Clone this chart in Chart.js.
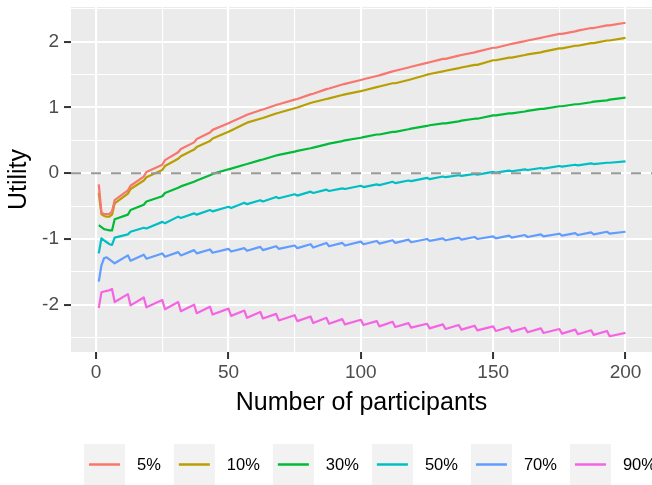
<!DOCTYPE html>
<html>
<head>
<meta charset="utf-8">
<script src="https://cdn.jsdelivr.net/npm/chart.js@4.4.1/dist/chart.umd.min.js"></script>
<style>
  html, body { margin: 0; padding: 0; background: #ffffff; }
  canvas { display: block; }
</style>
</head>
<body>
<canvas id="chartCanvas" width="652" height="485"></canvas>
<script>
// number of participants where the curves have a corner
const participants = [1, 2, 3, 4, 5, 6, 7, 12, 13, 18, 19, 25, 26, 31, 32, 37, 38, 43, 44, 50, 51,
  56, 57, 62, 63, 68, 69, 75, 76, 81, 82, 87, 88, 93, 94, 100, 101, 106, 107, 112, 113,
  118, 119, 125, 126, 131, 132, 137, 138, 143, 144, 150, 151, 156, 157, 162, 163, 168, 169,
  175, 176, 181, 182, 187, 188, 193, 194, 200];

const seriesLabels = ['5%', '10%', '30%', '50%', '70%', '90%'];
const seriesColors = ['#F8766D', '#B79F00', '#00BA38', '#00BFC4', '#619CFF', '#F564E3'];

const utility5 = [-0.17, -0.60, -0.62, -0.62, -0.62, -0.58, -0.41,
  -0.26, -0.19, -0.05, 0.02, 0.13, 0.20, 0.32, 0.37, 0.47, 0.52, 0.62, 0.66, 0.76, 0.78,
  0.87, 0.89, 0.96, 0.97, 1.04, 1.05, 1.12, 1.13, 1.20, 1.21, 1.28, 1.29, 1.35, 1.36,
  1.42, 1.43, 1.48, 1.49, 1.55, 1.56, 1.61, 1.62, 1.68, 1.69, 1.74, 1.74, 1.79, 1.80,
  1.84, 1.85, 1.91, 1.91, 1.96, 1.97, 2.01, 2.02, 2.06, 2.07, 2.12, 2.12, 2.16, 2.17,
  2.21, 2.21, 2.25, 2.25, 2.29];
const utility10 = [-0.30, -0.62, -0.65, -0.66, -0.66, -0.63, -0.46,
  -0.31, -0.24, -0.11, -0.06, 0.05, 0.11, 0.22, 0.26, 0.36, 0.40, 0.49, 0.53, 0.63, 0.65,
  0.75, 0.77, 0.83, 0.84, 0.91, 0.92, 0.99, 1.00, 1.07, 1.08, 1.13, 1.14, 1.19, 1.20,
  1.25, 1.26, 1.31, 1.32, 1.37, 1.37, 1.42, 1.43, 1.50, 1.51, 1.55, 1.56, 1.60, 1.61,
  1.65, 1.65, 1.72, 1.72, 1.76, 1.76, 1.80, 1.81, 1.84, 1.85, 1.90, 1.90, 1.94, 1.94,
  1.98, 1.98, 2.02, 2.02, 2.06];
const utility30 = [-0.79, -0.82, -0.85, -0.86, -0.87, -0.87, -0.70,
  -0.63, -0.56, -0.48, -0.43, -0.35, -0.30, -0.22, -0.20, -0.13, -0.11, -0.03, -0.01, 0.06, 0.07,
  0.13, 0.14, 0.20, 0.21, 0.27, 0.28, 0.33, 0.34, 0.38, 0.39, 0.44, 0.45, 0.49, 0.50,
  0.54, 0.55, 0.59, 0.59, 0.63, 0.63, 0.67, 0.68, 0.72, 0.73, 0.76, 0.76, 0.79, 0.80,
  0.83, 0.83, 0.88, 0.88, 0.91, 0.91, 0.94, 0.95, 0.98, 0.98, 1.02, 1.02, 1.05, 1.05,
  1.08, 1.09, 1.11, 1.12, 1.15];
const utility50 = [-1.22, -0.99, -1.02, -1.05, -1.08, -1.09, -0.98,
  -0.93, -0.89, -0.83, -0.84, -0.74, -0.76, -0.66, -0.68, -0.61, -0.63, -0.56, -0.58, -0.51, -0.53,
  -0.45, -0.47, -0.41, -0.43, -0.36, -0.38, -0.32, -0.34, -0.28, -0.30, -0.25, -0.27, -0.23, -0.24,
  -0.19, -0.21, -0.17, -0.18, -0.13, -0.15, -0.11, -0.12, -0.07, -0.09, -0.05, -0.06, -0.03, -0.04,
  -0.01, -0.02, 0.02, 0.01, 0.04, 0.03, 0.06, 0.05, 0.08, 0.07, 0.11, 0.10, 0.13, 0.12,
  0.15, 0.14, 0.16, 0.16, 0.18];
const utility70 = [-1.65, -1.40, -1.29, -1.28, -1.31, -1.34, -1.37,
  -1.25, -1.33, -1.24, -1.30, -1.22, -1.27, -1.20, -1.25, -1.17, -1.22, -1.16, -1.21, -1.15, -1.19,
  -1.14, -1.18, -1.12, -1.17, -1.11, -1.15, -1.10, -1.14, -1.08, -1.13, -1.06, -1.11, -1.06, -1.10,
  -1.04, -1.08, -1.03, -1.07, -1.02, -1.06, -1.01, -1.05, -1.00, -1.03, -0.99, -1.02, -0.98, -1.01,
  -0.97, -1.00, -0.96, -0.99, -0.95, -0.98, -0.94, -0.97, -0.93, -0.96, -0.92, -0.95, -0.91, -0.94,
  -0.90, -0.93, -0.89, -0.92, -0.89];
const utility90 = [-2.05, -1.81, -1.80, -1.79, -1.78, -1.76, -1.96,
  -1.84, -2.01, -1.89, -2.04, -1.93, -2.07, -1.96, -2.10, -2.00, -2.13, -2.03, -2.15, -2.06, -2.17,
  -2.09, -2.20, -2.11, -2.21, -2.14, -2.24, -2.16, -2.25, -2.18, -2.28, -2.20, -2.29, -2.22, -2.30,
  -2.23, -2.31, -2.25, -2.33, -2.26, -2.34, -2.28, -2.35, -2.29, -2.36, -2.30, -2.37, -2.31, -2.38,
  -2.32, -2.39, -2.33, -2.40, -2.34, -2.41, -2.35, -2.42, -2.36, -2.43, -2.37, -2.44, -2.38, -2.45,
  -2.39, -2.46, -2.40, -2.48, -2.43];

const seriesValues = [utility5, utility10, utility30, utility50, utility70, utility90];

const xTicks = [0, 25, 50, 75, 100, 125, 150, 175, 200];
const yTicks = [-2.5, -2, -1.5, -1, -0.5, 0, 0.5, 1, 1.5, 2, 2.5];
const refValue = 0;

Chart.defaults.font.family = "'Liberation Sans', Arial, sans-serif";

const isMajorX = v => v % 50 === 0;
const isMajorY = v => Number.isInteger(v);

// grey panel behind everything
const panelBg = {
  id: 'panelBg',
  beforeDraw(chart) {
    const { ctx, chartArea: a } = chart;
    ctx.save();
    ctx.fillStyle = '#EBEBEB';
    ctx.fillRect(a.left, a.top, a.right - a.left, a.bottom - a.top);
    ctx.restore();
  }
};

// dashed reference line at 0
const zeroLine = {
  id: 'zeroLine',
  afterDatasetsDraw(chart) {
    const { ctx, chartArea: a, scales } = chart;
    const y = scales.y.getPixelForValue(refValue);
    ctx.save();
    ctx.beginPath();
    ctx.rect(a.left, a.top, a.right - a.left, a.bottom - a.top);
    ctx.clip();
    ctx.strokeStyle = '#999999';
    ctx.lineWidth = 2;
    ctx.setLineDash([10, 10]);
    ctx.beginPath();
    ctx.moveTo(a.left, y);
    ctx.lineTo(a.right, y);
    ctx.stroke();
    ctx.restore();
  }
};

// ggplot style legend with grey key boxes
const ggLegend = {
  id: 'ggLegend',
  afterDraw(chart) {
    const ctx = chart.ctx;
    ctx.save();
    ctx.font = "16.5px 'Liberation Sans', Arial, sans-serif";
    ctx.textBaseline = 'middle';
    let x = 84;
    chart.data.datasets.forEach(ds => {
      ctx.fillStyle = '#F2F2F2';
      ctx.fillRect(x, 444, 41, 41);
      ctx.strokeStyle = ds.borderColor;
      ctx.lineWidth = 2.5;
      ctx.beginPath();
      ctx.moveTo(x + 5, 464.5);
      ctx.lineTo(x + 36, 464.5);
      ctx.stroke();
      ctx.fillStyle = '#000000';
      ctx.fillText(ds.label, x + 53, 465);
      x += 53 + ctx.measureText(ds.label).width + 13;
    });
    ctx.restore();
  }
};

const ctx = document.getElementById('chartCanvas').getContext('2d');

new Chart(ctx, {
  type: 'line',
  data: {
    datasets: seriesLabels.map((label, k) => ({
      label: label,
      data: participants.map((p, i) => ({ x: p, y: seriesValues[k][i] })),
      borderColor: seriesColors[k],
      backgroundColor: seriesColors[k],
      borderWidth: 2.2,
      pointRadius: 0,
      tension: 0,
      fill: false
    }))
  },
  options: {
    responsive: false,
    animation: false,
    layout: { padding: { top: 7, left: 0, right: 0, bottom: 0 } },
    elements: { line: { borderJoinStyle: 'round' } },
    plugins: {
      legend: { display: false },
      tooltip: { enabled: false }
    },
    scales: {
      x: {
        type: 'linear',
        min: -9.5,
        max: 210,
        afterBuildTicks: s => { s.ticks = xTicks.map(v => ({ value: v })); },
        afterFit: s => { s.height = 133; s.paddingLeft = 0; s.paddingRight = 0; },
        border: { display: false },
        grid: {
          color: '#FFFFFF',
          lineWidth: c => (c.tick && isMajorX(c.tick.value) ? 2.1 : 1.1),
          tickColor: c => (c.tick && isMajorX(c.tick.value) ? '#333333' : 'rgba(0,0,0,0)'),
          tickWidth: 2,
          tickLength: 7
        },
        ticks: {
          autoSkip: false,
          maxRotation: 0,
          padding: 2,
          color: '#4D4D4D',
          font: { size: 19 },
          callback: v => (isMajorX(v) ? String(v) : '')
        },
        title: {
          display: true,
          text: 'Number of participants',
          color: '#000000',
          font: { size: 25 },
          padding: { top: 0, bottom: 67 }
        }
      },
      y: {
        type: 'linear',
        min: -2.72,
        max: 2.53,
        afterBuildTicks: s => { s.ticks = yTicks.map(v => ({ value: v })); },
        afterFit: s => { s.width = 71; s.paddingTop = 0; s.paddingBottom = 0; },
        border: { display: false },
        grid: {
          color: '#FFFFFF',
          lineWidth: c => (c.tick && isMajorY(c.tick.value) ? 2.1 : 1.1),
          tickColor: c => (c.tick && isMajorY(c.tick.value) ? '#333333' : 'rgba(0,0,0,0)'),
          tickWidth: 2,
          tickLength: 7
        },
        ticks: {
          autoSkip: false,
          padding: 5,
          color: '#4D4D4D',
          font: { size: 19 },
          callback: v => (isMajorY(v) ? String(v) : '')
        },
        title: {
          display: true,
          text: 'Utility',
          color: '#000000',
          font: { size: 25 },
          padding: { top: 4, bottom: 0 }
        }
      }
    }
  },
  plugins: [panelBg, zeroLine, ggLegend]
});
</script>
</body>
</html>
